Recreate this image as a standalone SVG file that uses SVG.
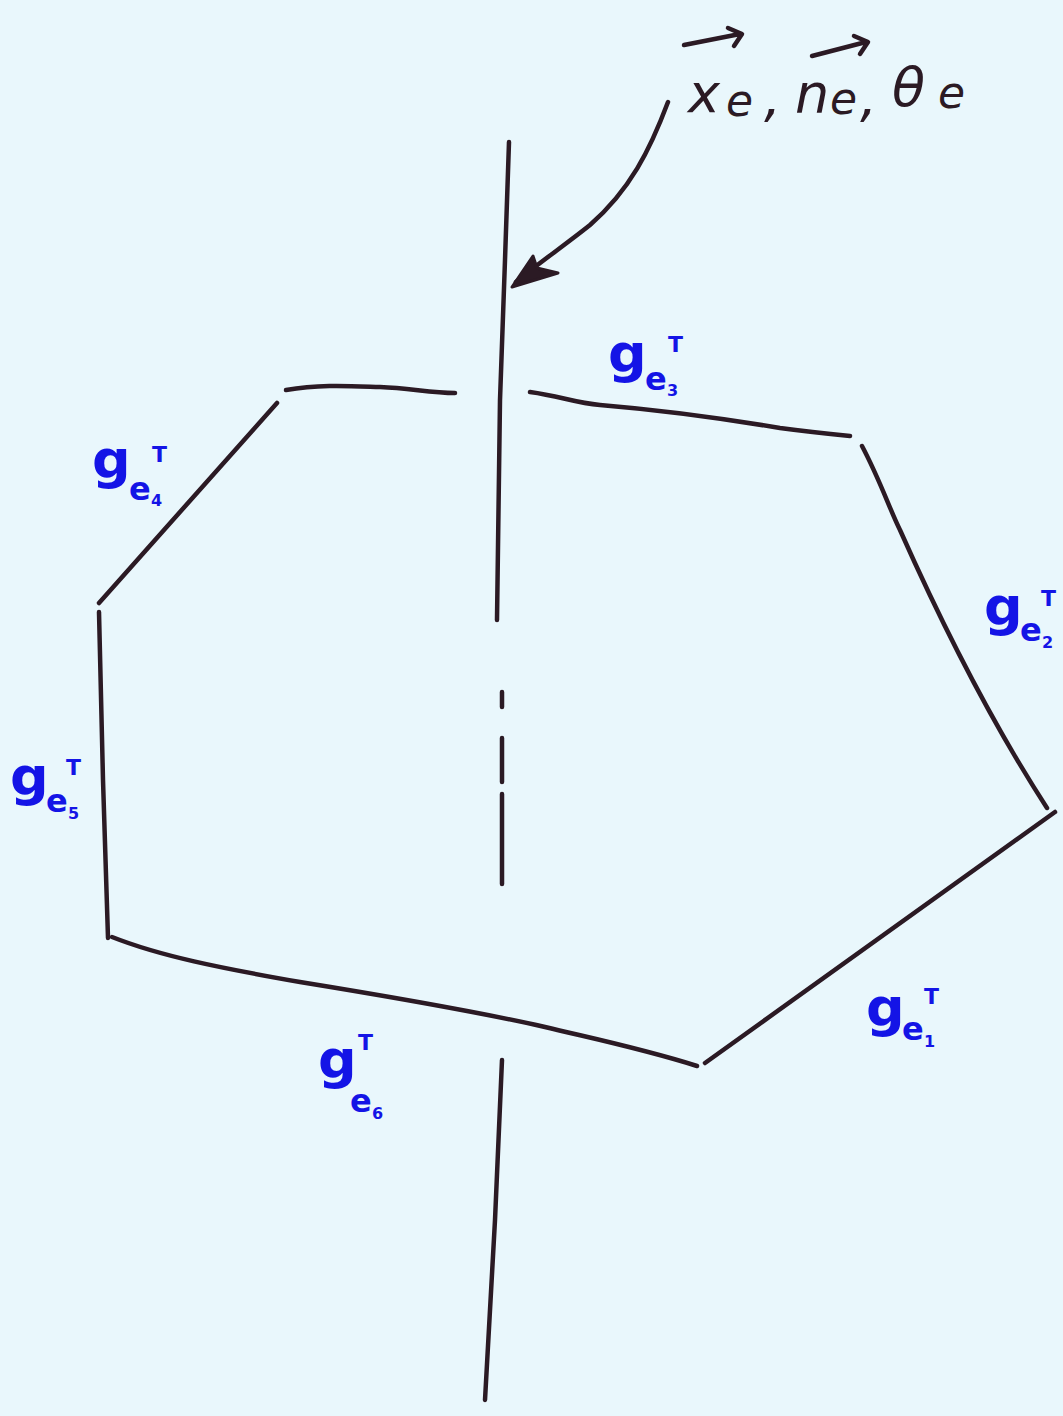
<svg xmlns="http://www.w3.org/2000/svg" width="1063" height="1416" viewBox="0 0 1063 1416">
<style>
.ln{fill:none;stroke:#2b1a24;stroke-width:4.5;stroke-linecap:round;stroke-linejoin:round}
.g{font-family:"DejaVu Sans",sans-serif;font-weight:bold;fill:#1414e6;font-size:54px}
.s{font-family:"DejaVu Sans",sans-serif;font-weight:bold;fill:#1414e6;font-size:32px}
.n{font-family:"DejaVu Sans",sans-serif;font-weight:bold;fill:#1414e6;font-size:16px}
.t{font-family:"DejaVu Sans",sans-serif;font-weight:bold;fill:#1414e6;font-size:22px}
.k{font-family:"DejaVu Sans",sans-serif;font-style:italic;fill:#2b1a24;font-size:54px}
.ks{font-family:"DejaVu Sans",sans-serif;font-style:italic;fill:#2b1a24;font-size:44px}
</style>
<rect width="1063" height="1416" fill="#e9f7fc"/>
<g id="axis">
<path class="ln" d="M509,142 L505,260 L500,400 L497,620"/>
<path class="ln" d="M502,692 L502,707 M502,738 L502,782 M502,794 L502,884"/>
<path class="ln" d="M502,1060 L495,1220 L485,1400"/>
</g>
<g id="polygon">
<path class="ln" d="M286,390 C320,384 350,386 380,387 C410,388 430,393 455,393"/>
<path class="ln" d="M530,392 C560,396 575,403 600,405 C660,410 720,418 780,428 C810,432 830,434 850,436"/>
<path class="ln" d="M862,446 C880,480 890,510 900,530 C940,620 990,720 1047,808"/>
<path class="ln" d="M1055,812 L705,1063"/>
<path class="ln" d="M697,1066 C640,1048 590,1038 545,1027 C470,1010 380,995 300,982 C220,968 160,956 112,937"/>
<path class="ln" d="M108,938 L103,780 L99,612"/>
<path class="ln" d="M99,603 L277,403"/>
</g>
<g id="connectors">
<path class="ln" d="M668,102 C650,150 630,190 590,225 C565,245 540,262 516,282"/>
<path d="M512,287 L533,256 L537,268 L558,273 Z" fill="#2b1a24" stroke="#2b1a24" stroke-width="3" stroke-linejoin="round"/>
</g>
<g id="label-xne">
<text class="k" x="688" y="112">x</text>
<text class="ks" x="726" y="116">e</text>
<text class="k" x="764" y="116">,</text>
<text class="k" x="795" y="112">n</text>
<text class="ks" x="830" y="114">e</text>
<text class="k" x="860" y="116">,</text>
<text class="k" x="892" y="106" font-size="58">θ</text>
<text class="ks" x="938" y="108">e</text>
<path class="ln" d="M684,45 L740,34 M728,28 L742,34 L734,46"/>
<path class="ln" d="M812,56 L866,42 M854,36 L868,42 L860,54"/>
</g>
<g id="label-e3">
<text class="g" x="608" y="372">g</text>
<text class="s" x="645" y="390">e</text>
<text class="n" x="667" y="396">3</text>
<text class="t" x="668" y="352">T</text>
</g>
<g id="label-e4">
<text class="g" x="92" y="478">g</text>
<text class="s" x="129" y="500">e</text>
<text class="n" x="151" y="506">4</text>
<text class="t" x="152" y="462">T</text>
</g>
<g id="label-e2">
<text class="g" x="984" y="625">g</text>
<text class="s" x="1020" y="641">e</text>
<text class="n" x="1042" y="648">2</text>
<text class="t" x="1041" y="606">T</text>
</g>
<g id="label-e5">
<text class="g" x="10" y="795">g</text>
<text class="s" x="46" y="812">e</text>
<text class="n" x="68" y="819">5</text>
<text class="t" x="66" y="775">T</text>
</g>
<g id="label-e1">
<text class="g" x="866" y="1026">g</text>
<text class="s" x="902" y="1040">e</text>
<text class="n" x="924" y="1047">1</text>
<text class="t" x="924" y="1004">T</text>
</g>
<g id="label-e6">
<text class="g" x="318" y="1078">g</text>
<text class="s" x="350" y="1112">e</text>
<text class="n" x="372" y="1119">6</text>
<text class="t" x="358" y="1050">T</text>
</g>
</svg>
